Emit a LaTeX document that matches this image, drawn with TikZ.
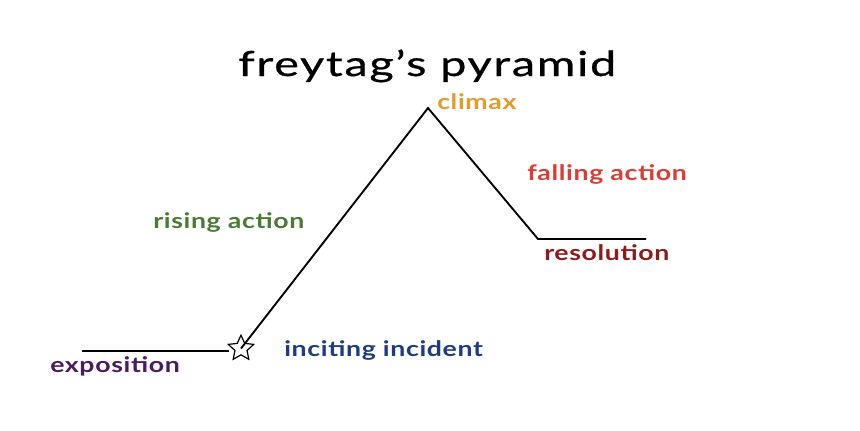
\documentclass[tikz,border=0pt]{standalone}
\usepackage{fontspec}
\setmainfont{Lato}
\newfontfamily\titlefont{Lato}[FakeStretch=1.35,LetterSpace=5,FakeBold=0.7]
\newfontfamily\lblfont{Lato}[FakeStretch=1.25,LetterSpace=3]
\usetikzlibrary{shapes.geometric}
\definecolor{cClimax}{HTML}{E39B2A}
\definecolor{cFalling}{HTML}{DC3C33}
\definecolor{cRising}{HTML}{4B7A34}
\definecolor{cResol}{HTML}{8E1B1B}
\definecolor{cIncit}{HTML}{1F3B84}
\definecolor{cExpo}{HTML}{4B1B5B}
\tikzset{
  lbl/.style={anchor=base west, inner sep=0pt, font=\lblfont\fontsize{16}{19}\selectfont\bfseries},
  plotline/.style={draw=black, line width=1.4pt, line join=miter},
}
\begin{document}
\begin{tikzpicture}[x=0.75pt,y=-0.75pt]
\useasboundingbox[fill=white] (0,0) rectangle (860,430);
\node[anchor=base west, inner sep=0pt, font=\titlefont\fontsize{26}{30}\selectfont] (title) at (238,76) {freytag’s pyramid};
\coordinate (expoStart) at (82,351);
\coordinate (expoEnd) at (229,351);
\node[star, star points=5, star point ratio=2.1, draw=black, line width=0.9pt, minimum size=20pt, inner sep=0pt] (incite) at (241,348.5) {};
\coordinate (peak) at (428,108);
\coordinate (resA) at (538,239);
\coordinate (resB) at (646,239);
\draw[plotline] (expoStart) -- (expoEnd);
\draw[plotline] (incite.center) -- (peak) -- (resA) -- (resB);
\node[lbl, text=cClimax] (climax) at (437,109) {climax};
\node[lbl, text=cFalling] (falling) at (527,180) {falling action};
\node[lbl, text=cRising] (rising) at (153,228) {rising action};
\node[lbl, text=cResol] (resol) at (544,260) {resolution};
\node[lbl, text=cIncit] (incit) at (284,356) {inciting incident};
\node[lbl, text=cExpo] (expo) at (50,372) {exposition};
\end{tikzpicture}
\end{document}
